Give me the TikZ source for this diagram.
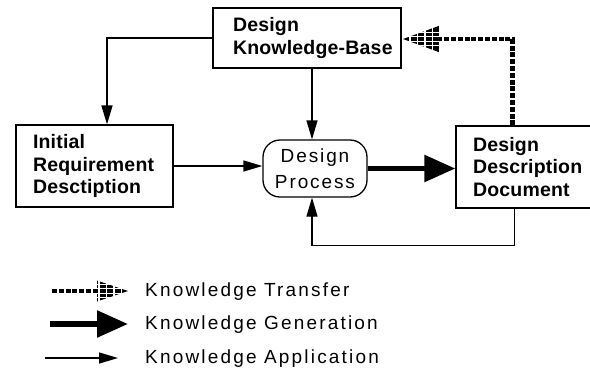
\documentclass[tikz,border=0pt]{standalone}
\usepackage{fontspec}
\setmainfont{Liberation Sans}
\newfontfamily\boxfont[LetterSpace=1]{Liberation Sans}
\newfontfamily\procfont[LetterSpace=10]{Liberation Sans}
\newfontfamily\legfont[LetterSpace=11.5]{Liberation Sans}
\usetikzlibrary{arrows.meta}
\newcommand\stripehead[4]{%
  \begin{scope}
    \clip (#1,#2) -- ++(#3,#4/2) -- ++(0,-#4) -- cycle;
    \foreach \k in {-4,...,4}
      \draw[line width=3.6pt, dash pattern=on 6pt off 1.5pt] (#1,{#2+\k*4.4}) -- ++(#3,0);
  \end{scope}}
\tikzset{
  boxlab/.style={draw, line width=1.2pt, rectangle, align=left, inner ysep=0pt,
    font={\boxfont\bfseries\fontsize{19.5}{22.5}\selectfont}},
  proclab/.style={draw, line width=1.3pt, rectangle, rounded corners=17pt, align=center,
    inner sep=0pt, font={\procfont\fontsize{19}{26}\selectfont}},
  app/.style={line width=1.3pt, -{Triangle[length=19pt, width=11pt]}},
  gen/.style={line width=5.5pt, -{Triangle[length=31pt, width=26pt]}},
  transfer/.style={line width=4.5pt, dash pattern=on 5pt off 1.8pt},
  leg/.style={anchor=base west, inner sep=0pt, font={\legfont\fontsize{19}{22}\selectfont}}
}
\begin{document}
\begin{tikzpicture}[x=1pt, y=-1pt]
\useasboundingbox (0,0) rectangle (590,376);
\clip (0,0) rectangle (590,376);
\fill[white] (0,0) rectangle (590,376);
% boxes
\node[boxlab, minimum width=188pt, minimum height=60pt, inner xsep=20pt, text width=148pt] (kb) at (307,38) {Design\\\mbox{Knowledge-Base}};
\node[boxlab, minimum width=157pt, minimum height=82pt, inner xsep=17pt, text width=123pt] (init) at (94.5,166) {Initial\\\mbox{Requirement}\\\mbox{Desctiption}};
\node[proclab, minimum width=104pt, minimum height=57pt] (proc) at (315,168.5) {Design\\Process};
\node[boxlab, minimum width=180pt, minimum height=82pt, inner xsep=17pt, text width=146pt] (ddd) at (546,167) {Design\\Description\\Document};
% connectors
\draw[app] (kb.west) -| ([xshift=12.5pt]init.north);
\draw[app] ([xshift=-3pt]proc.north |- kb.south) -- ([xshift=-3pt]proc.north);
\draw[app] (init.east) -- (init.east -| proc.west);
\draw[gen] (proc.east) -- (proc.east -| ddd.west);
\draw[app] ([xshift=59pt]ddd.south west) -- ++(0,37) -| ([xshift=-3pt]proc.south);
\coordinate (tb) at (439,39);
\draw[transfer] ([xshift=57pt]ddd.north west) |- (tb);
\stripehead{403}{39}{37}{27}
% legend
\coordinate (t1a) at (52,291);
\coordinate (t1b) at (98,291);
\draw[transfer] (t1a) -- (t1b);
\stripehead{128}{291}{-31}{21}
\node[leg] (lt) at (145,296) {Knowledge Transfer};
\coordinate (g1a) at (50,324);
\coordinate (g1b) at (128,324);
\draw[gen] (g1a) -- (g1b);
\node[leg] (lg) at (145,329) {Knowledge Generation};
\coordinate (a1a) at (45,358);
\coordinate (a1b) at (118,358);
\draw[app] (a1a) -- (a1b);
\node[leg] (la) at (145,363) {Knowledge Application};
\end{tikzpicture}
\end{document}
